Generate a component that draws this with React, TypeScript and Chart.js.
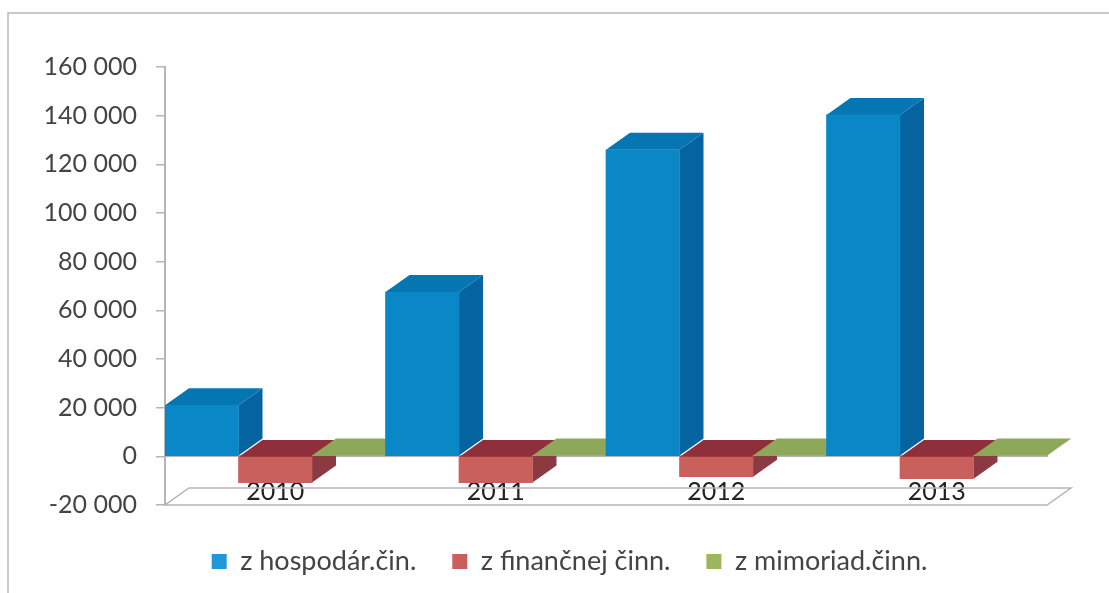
import React, { useEffect, useRef } from "react";
import { Chart, registerables } from "chart.js";

Chart.register(...registerables);

const categories = ["2010", "2011", "2012", "2013"];
const hospodarska = [21000, 67500, 126000, 140300];
const financna = [-10800, -10800, -8400, -9200];
const mimoriadna = [250, 250, 250, 250];
const seriesNames = ["z hospodár.čin.", "z finančnej činn.", "z mimoriad.činn."];
const frontColors = ["#0a87c6", "#c9605c", "#9ab65e"];
const legendColors = ["#1f97d8", "#c9605c", "#9ab65e"];
const topColors = ["#0576b2", "#8f2f3b", "#8ea85a"];
const sideColors = ["#05649f", "#8c3a42", "#7f964f"];

const DX = 24;
const DY = 17;
const LINE = "#b4b4bc";

const depthPlugin = {
  id: "depth",
  afterLayout(chart: any) {
    const lg = chart.legend;
    lg.left += 46;
    lg.right += 46;
    lg.top += 7;
    lg.bottom += 7;
  },
  beforeDraw(chart: any) {
    const { ctx, width, height } = chart;
    ctx.save();
    ctx.fillStyle = "#ffffff";
    ctx.fillRect(0, 0, width, height);
    ctx.strokeStyle = "#b8b8c0";
    ctx.lineWidth = 1.5;
    ctx.beginPath();
    ctx.moveTo(8, height);
    ctx.lineTo(8, 13);
    ctx.lineTo(width, 13);
    ctx.stroke();
    ctx.restore();
  },
  beforeDatasetsDraw(chart: any) {
    const { ctx, chartArea } = chart;
    const { left, right, bottom } = chartArea;
    ctx.save();
    ctx.strokeStyle = LINE;
    ctx.lineWidth = 1.5;
    ctx.beginPath();
    ctx.moveTo(left, bottom);
    ctx.lineTo(right, bottom);
    ctx.lineTo(right + DX, bottom - DY);
    ctx.lineTo(left + DX, bottom - DY);
    ctx.closePath();
    ctx.stroke();

    const poly = (pts: number[][], color: string) => {
      ctx.fillStyle = color;
      ctx.beginPath();
      pts.forEach(([x, y], i) => (i ? ctx.lineTo(x, y) : ctx.moveTo(x, y)));
      ctx.closePath();
      ctx.fill();
    };
    categories.forEach((_, c) => {
      [0, 1, 2].forEach((d) => {
        const bar = chart.getDatasetMeta(d).data[c];
        const l = bar.x - bar.width / 2;
        const r = bar.x + bar.width / 2;
        const top = Math.min(bar.y, bar.base);
        const bot = Math.max(bar.y, bar.base);
        poly(
          [
            [r, top],
            [r + DX, top - DY],
            [r + DX, bot - DY],
            [r, bot],
          ],
          sideColors[d]
        );
        poly(
          [
            [l, top],
            [r, top],
            [r + DX, top - DY],
            [l + DX, top - DY],
          ],
          topColors[d]
        );
      });
    });
    ctx.restore();
  },
};

const spaced = (v: number) =>
  String(v).replace(/\B(?=(\d{3})+(?!\d))/g, " ");

export default function App() {
  const ref = useRef<HTMLCanvasElement>(null);
  useEffect(() => {
    const chart = new Chart(ref.current!, {
      type: "bar",
      data: {
        labels: categories,
        datasets: [hospodarska, financna, mimoriadna].map((values, i) => ({
          label: seriesNames[i],
          data: values,
          backgroundColor: frontColors[i],
          barPercentage: 1,
          categoryPercentage: 1,
          borderWidth: 0,
        })),
      },
      options: {
        responsive: false,
        animation: false,
        layout: { padding: { left: 0, right: 62, top: 67, bottom: 15 } },
        plugins: {
          tooltip: { enabled: false },
          legend: {
            position: "bottom",
            labels: {
              boxWidth: 15,
              boxHeight: 15,
              padding: 36,
              color: "#444444",
              font: { family: "Lato", size: 27 },
              generateLabels: (c: any) =>
                Chart.defaults.plugins.legend.labels
                  .generateLabels(c)
                  .map((it: any, i: number) => ({ ...it, fillStyle: legendColors[i], lineWidth: 0 })),
            },
          },
        },
        scales: {
          x: {
            position: { y: 0 },
            z: 1,
            grid: { drawOnChartArea: false, drawTicks: false },
            border: { color: LINE, width: 2 },
            ticks: {
              color: "#222222",
              padding: 21,
              maxRotation: 0,
              font: { family: "Lato", size: 25 },
            },
          },
          y: {
            min: -20000,
            max: 160000,
            afterFit: (s: any) => {
              s.width = 165;
            },
            grid: { drawOnChartArea: false, tickLength: 9, color: LINE, lineWidth: 1.5 },
            border: { color: LINE, width: 2 },
            ticks: {
              stepSize: 20000,
              color: "#444444",
              padding: 19,
              callback: (v: any) => spaced(Number(v)),
              font: { family: "Lato", size: 25 },
            },
          },
        },
      } as any,
      plugins: [depthPlugin],
    });
    return () => chart.destroy();
  }, []);
  return (
    <div style={{ position: "fixed", left: 0, top: 0, width: 1109, height: 593 }}>
      <canvas ref={ref} width={1109} height={593} style={{ display: "block" }} />
    </div>
  );
}
